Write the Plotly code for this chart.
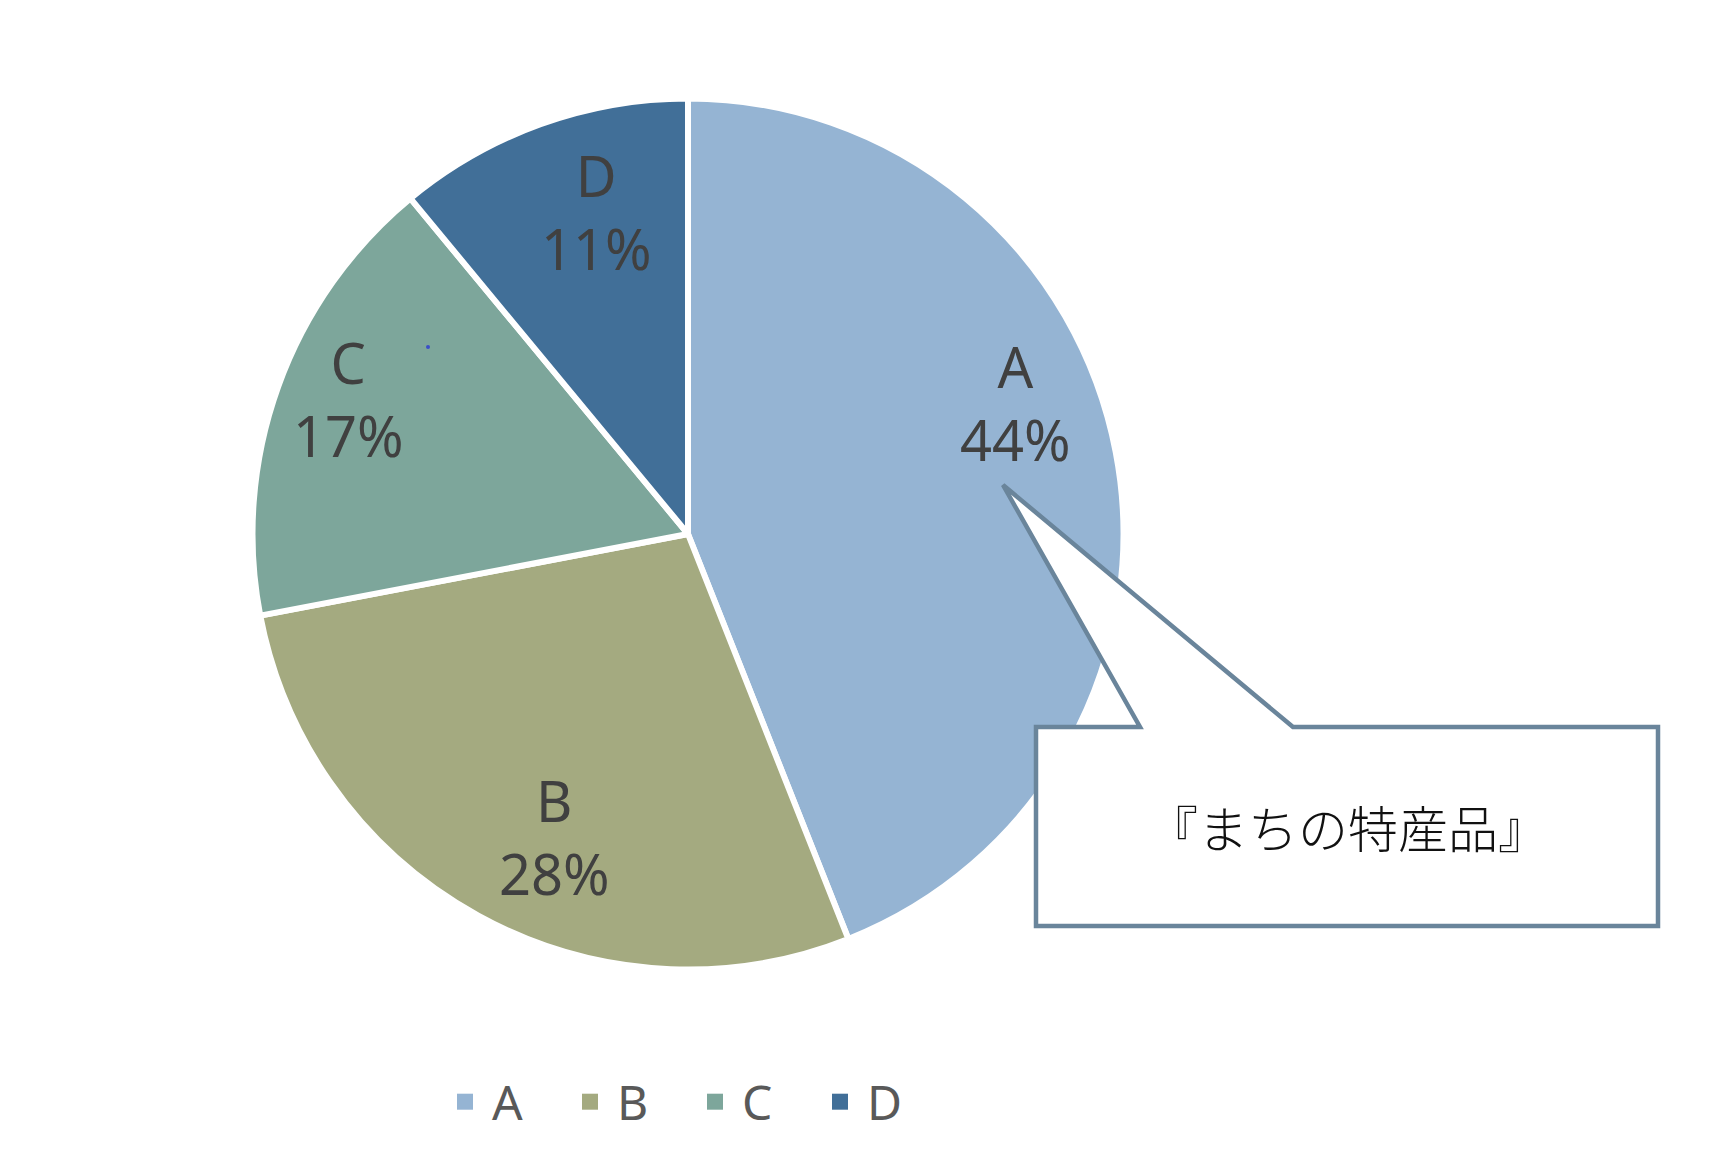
import math
import plotly.graph_objects as go

# データ
labels = ["A", "B", "C", "D"]
values = [44, 28, 17, 11]
colors = ["#95B4D3", "#A4AA80", "#7DA69B", "#416F98"]
callout_text = "『まちの特産品』"

W, H = 1729, 1164
OFF = 8  # ページ(body)の余白分ずらす


def px_x(x):
    return (x - OFF) / W


def px_y(y):
    return 1 - (y - OFF) / H


# 円の中心と半径(px)
cx, cy, r = 688, 534, 435.5
# ラベル位置の微調整(角度のずれ[度], 半径比)
label_shift = [-11, -5, 2, 4]
label_rad = [0.81, 0.76, 0.84, 0.77]

fig = go.Figure()
fig.add_trace(go.Pie(
    labels=labels,
    values=values,
    sort=False,
    direction="clockwise",
    rotation=0,
    marker=dict(colors=colors, line=dict(color="white", width=6)),
    textinfo="none",
    domain=dict(x=[px_x(cx - r), px_x(cx + r)], y=[px_y(cy + r), px_y(cy - r)]),
    hoverinfo="label+percent",
    showlegend=False,
))

# 凡例用(四角いマーカー)
for lab, col in zip(labels, colors):
    fig.add_trace(go.Scatter(x=[None], y=[None], mode="markers", name=lab,
                             marker=dict(symbol="square", size=21, color=col),
                             hoverinfo="skip"))

# データラベル
total = sum(values)
cum = 0
for i, (lab, v) in enumerate(zip(labels, values)):
    mid = (cum + v / 2) / total * 2 * math.pi + math.radians(label_shift[i])
    cum += v
    lx = cx + label_rad[i] * r * math.sin(mid)
    ly = cy - label_rad[i] * r * math.cos(mid)
    fig.add_annotation(x=px_x(lx), y=px_y(ly), xref="paper", yref="paper",
                       xanchor="center", yanchor="middle", showarrow=False,
                       text=f"{lab}<br>{round(v / total * 100)}%",
                       font=dict(family="Noto Sans", size=56, color="#404040"))

# 吹き出し
callout = (f"M {px_x(1036)},{px_y(727)} L {px_x(1140)},{px_y(727)} "
           f"L {px_x(1003)},{px_y(485)} L {px_x(1293)},{px_y(727)} "
           f"L {px_x(1658)},{px_y(727)} L {px_x(1658)},{px_y(926)} "
           f"L {px_x(1036)},{px_y(926)} Z")
fig.add_shape(type="path", xref="paper", yref="paper", path=callout,
              fillcolor="white", line=dict(color="#6A859B", width=4.5))
fig.add_annotation(x=px_x(1348), y=px_y(826), xref="paper", yref="paper",
                   xanchor="center", yanchor="middle",
                   text=callout_text, showarrow=False,
                   font=dict(family="Noto Sans CJK JP", size=50, color="#111111", weight=300))

# 小さな点
fig.add_shape(type="circle", xref="paper", yref="paper",
              x0=px_x(426), x1=px_x(430), y0=px_y(345), y1=px_y(349),
              fillcolor="#3A4FC8", line=dict(width=0))

fig.update_layout(
    width=W, height=H,
    margin=dict(l=0, r=0, t=0, b=0),
    paper_bgcolor="white",
    plot_bgcolor="white",
    xaxis=dict(visible=False),
    yaxis=dict(visible=False),
    legend=dict(orientation="h", x=px_x(438), xanchor="left", y=px_y(1102), yanchor="middle",
                font=dict(family="Noto Sans", size=48, color="#595959"),
                itemwidth=44, entrywidth=66, traceorder="normal"),
)

fig.write_html("out.html")
